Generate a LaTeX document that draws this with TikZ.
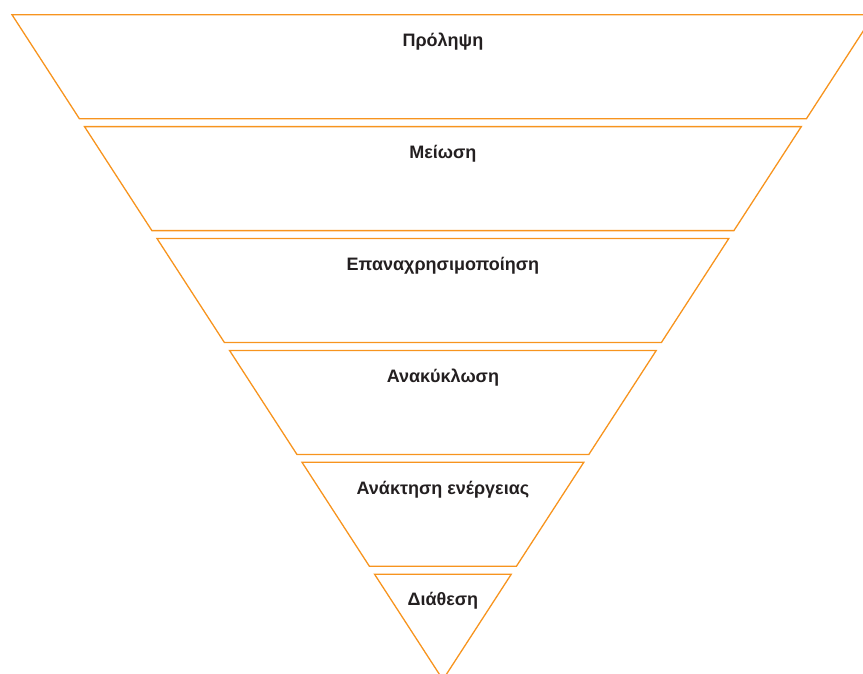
\documentclass[tikz,border=0pt]{standalone}
\usepackage{fontspec}
\setmainfont{Liberation Sans}
\definecolor{bandorange}{RGB}{247,148,30}
\definecolor{labelgray}{RGB}{35,31,32}
\tikzset{
  band/.style={draw=bandorange, line width=1.3pt, line join=miter},
  lbl/.style={anchor=base, text=labelgray, font=\bfseries\fontsize{18}{20}\selectfont, inner sep=0pt}
}

\begin{document}
\begin{tikzpicture}[x=1pt,y=-1pt]
  \useasboundingbox (0,0) rectangle (863,673);
  \clip (0,0) rectangle (863,673);
  \coordinate (apex) at (442.9,679.7);

  % one inverted triangle cut into six bands
  \foreach \lbl [count=\i from 0] in {Πρόληψη,Μείωση,Επαναχρησιμοποίηση,Ανακύκλωση,Ανάκτηση ενέργειας,Διάθεση} {
    \pgfmathsetmacro\yt{14.7+111.9*\i}
    \pgfmathsetmacro\yb{min(\yt+104,679.7)}
    \pgfmathsetmacro\wt{0.648*(679.7-\yt)}
    \pgfmathsetmacro\wb{0.648*(679.7-\yb)}
    \draw[band] (442.9-\wt,\yt) -- (442.9+\wt,\yt) -- (442.9+\wb,\yb) -- (442.9-\wb,\yb) -- cycle;
    \node[lbl] (band\i) at (442.9,\yt+31.7) {\lbl};
  }
\end{tikzpicture}
\end{document}
